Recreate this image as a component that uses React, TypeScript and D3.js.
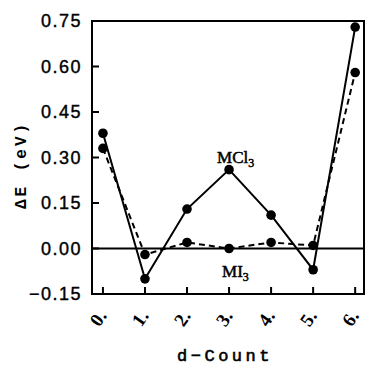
import React from 'react';
import * as d3 from 'd3';

const dCounts = [0, 1, 2, 3, 4, 5, 6];
const mcl3Values = [0.38, -0.1, 0.13, 0.26, 0.11, -0.07, 0.73];
const mi3Values = [0.33, -0.02, 0.02, 0.0, 0.02, 0.01, 0.58];
const yTicks = [-0.15, 0.0, 0.15, 0.3, 0.45, 0.6, 0.75];

const width = 367;
const height = 366;
const margin = { top: 21, right: 3, bottom: 72, left: 92 };

const App: React.FC = () => {
  const x = d3.scaleLinear().domain([-0.26, 6.21]).range([margin.left, width - margin.right]);
  const y = d3.scaleLinear().domain([-0.15, 0.75]).range([height - margin.bottom, margin.top]);

  const line = d3
    .line<number>()
    .x((_, i) => x(dCounts[i]))
    .y(d => y(d));

  const left = x.range()[0];
  const right = x.range()[1];
  const top = y.range()[1];
  const bottom = y.range()[0];

  return (
    <svg
      width={width}
      height={height}
      style={{ position: 'absolute', left: 0, top: 0, background: '#fff' }}
    >
      {/* frame */}
      <rect
        x={left}
        y={top}
        width={right - left}
        height={bottom - top}
        fill="none"
        stroke="#000"
        strokeWidth={2}
      />
      {/* zero line */}
      <line x1={left} x2={right} y1={y(0)} y2={y(0)} stroke="#000" strokeWidth={2} />

      {/* y ticks */}
      {yTicks.map(t => (
        <g key={t}>
          <line x1={left} x2={left + 7} y1={y(t)} y2={y(t)} stroke="#000" strokeWidth={2} />
          <text
            x={left - 10}
            y={y(t)}
            dy="0.36em"
            textAnchor="end"
            fontFamily="Liberation Sans, Arial, sans-serif"
            fontSize={18}
            letterSpacing={1.5}
            fill="#000"
            stroke="#000"
            strokeWidth={0.4}
          >
            {t < 0 ? '\u2212' + d3.format('.2f')(-t) : d3.format('.2f')(t)}
          </text>
        </g>
      ))}

      {/* x ticks */}
      {dCounts.map(c => (
        <g key={c}>
          <line x1={x(c)} x2={x(c)} y1={bottom} y2={bottom - 7} stroke="#000" strokeWidth={2} />
          <text
            transform={`translate(${x(c) - 5},${bottom + 24}) rotate(-55)`}
            textAnchor="middle"
            dy="0.35em"
            fontFamily="Liberation Serif, Times New Roman, serif"
            fontSize={19}
            fontWeight="bold"
            fill="#000"
          >
            {c + '.'}
          </text>
        </g>
      ))}

      {/* series */}
      <path d={line(mi3Values) ?? ''} fill="none" stroke="#000" strokeWidth={2} strokeDasharray="6,4" />
      <path d={line(mcl3Values) ?? ''} fill="none" stroke="#000" strokeWidth={2} />
      {mi3Values.map((v, i) => (
        <circle key={'mi' + i} cx={x(dCounts[i])} cy={y(v)} r={4.8} fill="#000" />
      ))}
      {mcl3Values.map((v, i) => (
        <circle key={'mc' + i} cx={x(dCounts[i])} cy={y(v)} r={4.8} fill="#000" />
      ))}

      {/* series labels */}
      <text
        x={x(3) - 12}
        y={163}
        fontFamily="Liberation Serif, Times New Roman, serif"
        fontSize={17}
        fill="#000"
        stroke="#000"
        strokeWidth={0.5}
      >
        MCl<tspan fontSize={12} dy={4}>3</tspan>
      </text>
      <text
        x={x(3) - 7}
        y={277}
        fontFamily="Liberation Serif, Times New Roman, serif"
        fontSize={17}
        fill="#000"
        stroke="#000"
        strokeWidth={0.5}
      >
        MI<tspan fontSize={12} dy={4}>3</tspan>
      </text>

      {/* axis titles */}
      <text
        x={(left + right) / 2 - 3}
        y={361}
        textAnchor="middle"
        fontFamily="Liberation Mono, Courier New, monospace"
        fontSize={17}
        letterSpacing={3.5}
        fill="#000"
        stroke="#000"
        strokeWidth={0.6}
      >
        d{'\u2212'}Count
      </text>
      <text
        transform={`translate(26,165) rotate(-90)`}
        textAnchor="middle"
        fontFamily="Liberation Mono, Courier New, monospace"
        fontSize={16}
        fontWeight="bold"
        letterSpacing={3}
        fill="#000"
      >
        {'\u0394E (eV)'}
      </text>
    </svg>
  );
};

export default App;
